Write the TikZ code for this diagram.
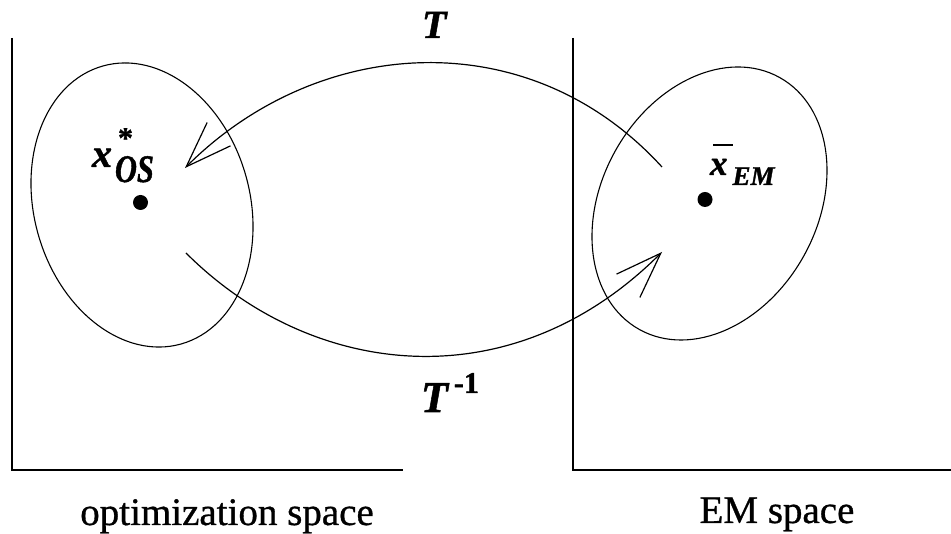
\documentclass[tikz,border=0pt]{standalone}
\usepackage{fontspec}
\setmainfont{Liberation Serif}
\newfontfamily\labelfont[FakeBold=0.8]{Liberation Serif}
\newfontfamily\symfont[FakeBold=1.2]{Liberation Serif}
\usetikzlibrary{shapes.geometric,arrows.meta}
\begin{document}
\begin{tikzpicture}[x=1pt,y=1pt,
  axisline/.style={line width=2.6pt},
  region/.style={draw,ellipse,line width=1.1pt,inner sep=0pt},
  mapping/.style={line width=1.2pt,-{Straight Barb[length=46pt,width=33pt,line width=1.2pt]}},
  pointdot/.style={circle,fill=black,inner sep=0pt,minimum size=15pt},
  lbl/.style={inner sep=0pt,outer sep=0pt}]
\useasboundingbox (0,0) rectangle (951,534);
% axes
\coordinate (la) at (12,496);
\coordinate (lo) at (12,64);
\coordinate (lb) at (403,64);
\coordinate (ra) at (573,496);
\coordinate (ro) at (573,64);
\coordinate (rb) at (951,64);
\draw[axisline] (la) -- (lo) -- (lb);
\draw[axisline] (ra) -- (ro) -- (rb);
% regions
\node[region,minimum width=215.8pt,minimum height=288.8pt,rotate=15.75] (E1) at (142,329) {};
\node[region,minimum width=215.8pt,minimum height=288.4pt,rotate=-29.1] (E2) at (709.5,330.5) {};
% points
\node[pointdot] (p1) at (140.5,331.5) {};
\node[pointdot] (p2) at (705,334.5) {};
% mappings
\coordinate (ts) at (662,367);
\coordinate (te) at (185,366);
\coordinate (bs) at (186,281);
\coordinate (be) at (662,282);
\draw[mapping] (ts) .. controls (529,513) and (318,499) .. (te);
\draw[mapping] (bs) .. controls (311,156) and (511,131) .. (be);
% labels
\node[lbl,anchor=base west] (xos) at (92,367) {\symfont\bfseries\itshape\fontsize{40}{44}\selectfont x\rlap{\hspace{6pt}\raisebox{19pt}{\fontsize{30}{34}\selectfont\upshape *}}\hspace{3pt}\raisebox{-15pt}{\scalebox{0.78}[1]{\fontsize{39}{44}\selectfont OS}}};
\node[lbl,anchor=base west] (xem) at (710,359) {\symfont\bfseries\itshape\fontsize{35}{38}\selectfont x\hspace{5pt}\raisebox{-10pt}{\fontsize{27}{30}\selectfont EM}};
\draw[line width=2.4pt] (713,389) -- (733,389);
\node[lbl,anchor=base west] (T) at (422,496) {\symfont\bfseries\itshape\fontsize{40}{44}\selectfont T};
\node[lbl,anchor=base west] (Tinv) at (421,122) {\symfont\bfseries\itshape\fontsize{44}{48}\selectfont T\hspace{6pt}\raisebox{19pt}{\fontsize{30}{34}\selectfont\upshape -1}};
\node[lbl,anchor=base] (los) at (227,9) {\fontsize{39}{44}\labelfont\selectfont optimization space};
\node[lbl,anchor=base] (lem) at (777,11) {\fontsize{39}{44}\labelfont\selectfont EM space};
\end{tikzpicture}
\end{document}
